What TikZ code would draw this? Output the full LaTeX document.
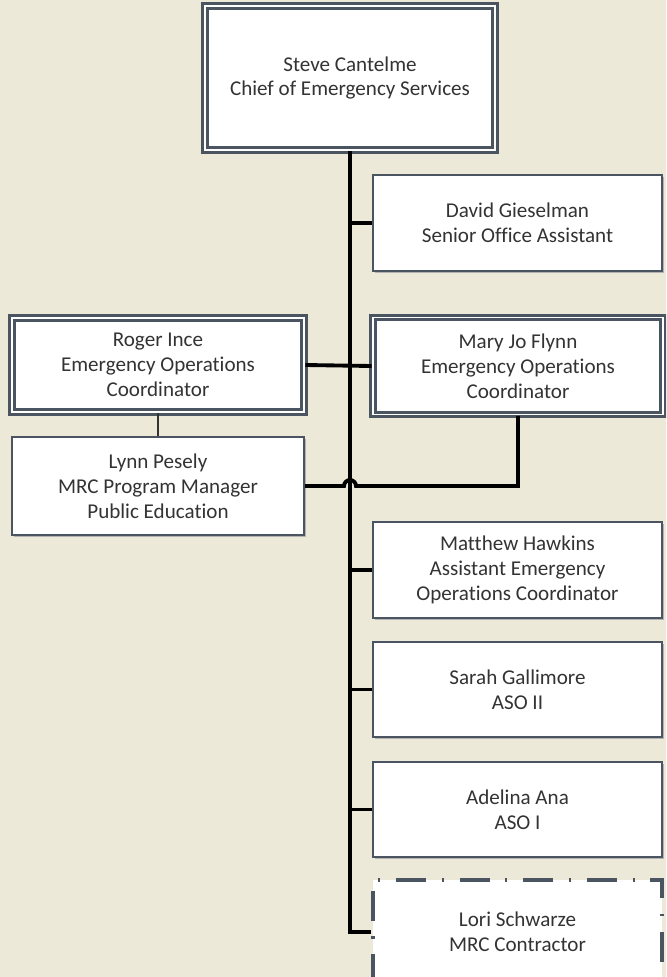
\documentclass[tikz,border=0pt]{standalone}
\usepackage{fontspec}
\setmainfont{Carlito}[Ligatures=NoCommon]
\usetikzlibrary{shadows, calc}
\definecolor{sfondo}{HTML}{ECE9D8}
\definecolor{bordo}{HTML}{4A5561}
\definecolor{testo}{HTML}{333333}
\tikzset{
  box/.style={draw=bordo, line width=1.2pt, fill=white, align=center, text=testo,
    font=\fontsize{12}{14.2}\selectfont, inner sep=0pt,
    minimum width=5.78cm, minimum height=1.92cm,
    drop shadow={shadow xshift=1pt, shadow yshift=-1.3pt, fill=black!30, opacity=1}},
  dbox/.style={box, line width=1.6pt, double=white, double distance=1.1pt},
  cbox/.style={draw=bordo, line width=2pt, fill=white, align=center, text=testo,
    font=\fontsize{12}{14.2}\selectfont, inner sep=0pt,
    minimum width=5.78cm, minimum height=2.08cm,
    dash pattern=on 17pt off 9pt on 1.2pt off 9pt, dash phase=4pt},
  ramo/.style={line width=2.2pt, black},
  filo/.style={line width=0.7pt, black!80}
}
\begin{document}
\begin{tikzpicture}[x=0.02cm, y=-0.02cm]
\useasboundingbox (0,0) rectangle (666,977);
\clip (0,0) rectangle (666,977);
\fill[sfondo] (0,0) rectangle (666,977);
% chief, top
\node[dbox, minimum width=5.8cm, minimum height=2.88cm] (steve) at (350,78) {Steve Cantelme\\Chief of Emergency Services};
% assistant, right
\node[box] (david) at (517.5,223) {David Gieselman\\Senior Office Assistant};
% coordinators
\node[dbox, minimum width=5.84cm, minimum height=1.88cm] (roger) at (158,365) {Roger Ince\\Emergency Operations\\Coordinator};
\node[dbox, minimum width=5.8cm, minimum height=1.94cm] (mary) at (518,366) {Mary Jo Flynn\\Emergency Operations\\Coordinator};
% MRC, left
\node[box, minimum width=5.84cm, minimum height=1.96cm] (lynn) at (158,486) {Lynn Pesely\\MRC Program Manager\\Public Education};
% staff, right column
\node[box] (matthew) at (517.5,570) {Matthew Hawkins\\Assistant Emergency\\Operations Coordinator};
\node[box, minimum height=1.9cm] (sarah) at (517.5,689.5) {Sarah Gallimore\\ASO II};
\node[box, minimum height=1.9cm] (adelina) at (517.5,809.5) {Adelina Ana\\ASO I};
% contractor, dash-dot
\node[cbox] (lori) at (517.5,932) {Lori Schwarze\\MRC Contractor};
% trunk
\draw[ramo] (steve.south) |- (lori.west);
% branches
\draw[ramo] (steve.south |- david.west) -- (david.west);
\draw[ramo] (roger.east) -- (mary.west);
\draw[ramo] (steve.south |- matthew.west) -- (matthew.west);
\draw[ramo] (steve.south |- sarah.west) -- (sarah.west);
\draw[ramo] (steve.south |- adelina.west) -- (adelina.west);
% Roger to Lynn
\draw[filo] (roger.south) -- (lynn.north);
% Mary to Lynn, hop over trunk
\draw[ramo] (mary.south) |- ($(steve.south |- lynn.east)+(6,0)$) arc[start angle=0, end angle=-180, radius=6] -- (lynn.east);
\end{tikzpicture}
\end{document}
